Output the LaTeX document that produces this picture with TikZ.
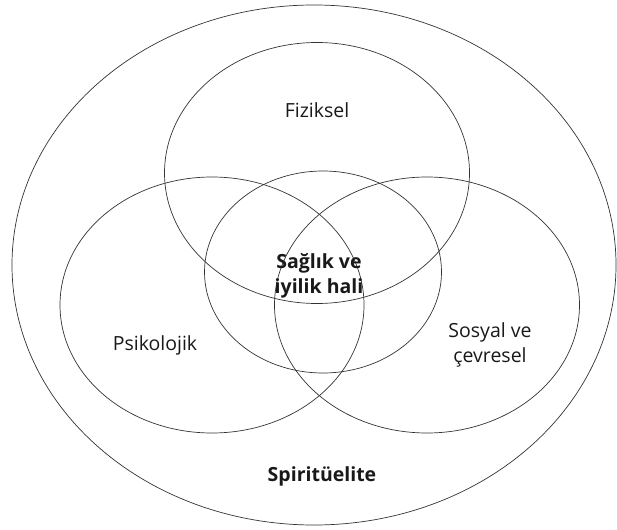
\documentclass[tikz,border=0pt]{standalone}
\usepackage{fontspec}
\setmainfont{Open Sans}
\usetikzlibrary{positioning}
\usetikzlibrary{shapes.geometric}
\tikzset{
	ring/.style={
			draw=black!80,
			line width=0.7pt,
			ellipse,
			inner sep=0pt
		},
	lbl/.style={
			font=\fontsize{19.5}{25}\selectfont,
			text=black!90,
			align=center,
			inner sep=0pt
		}
}

\begin{document}
\begin{tikzpicture}[x=1pt,y=-1pt]
		\useasboundingbox (0,0) rectangle (617,529);

		% Outer ring
		\node[ring,
			minimum width=604pt,
			minimum height=520pt
		] (spirit) at (314,265) {};

		% Three domains
		\node[ring,
			minimum width=305pt,
			minimum height=261pt
		] (fiz) at (317,173) {};

		\node[ring,
			minimum width=304pt,
			minimum height=256pt
		] (psi) at (212,305) {};

		\node[ring,
			minimum width=305pt,
			minimum height=256pt
		] (sos) at (427,305) {};

		% Centre
		\node[ring,
			minimum width=237pt,
			minimum height=202pt
		] (core) at (323,272) {};

		% Labels
		\node[lbl] (fizlbl) at (317,110) {Fiziksel};
		\node[lbl] (psilbl) at (155,345) {Psikolojik};
		\node[lbl] (soslbl) at (490,345) {Sosyal ve\\çevresel};
		\node[lbl,font=\fontsize{19.5}{25}\selectfont\bfseries] (corelbl) at (319,276) {Sağlık ve\\iyilik hali};
		\node[lbl,font=\fontsize{19.5}{25}\selectfont\bfseries] (spiritlbl) at (322,476) {Spiritüelite};
	\end{tikzpicture}
\end{document}
